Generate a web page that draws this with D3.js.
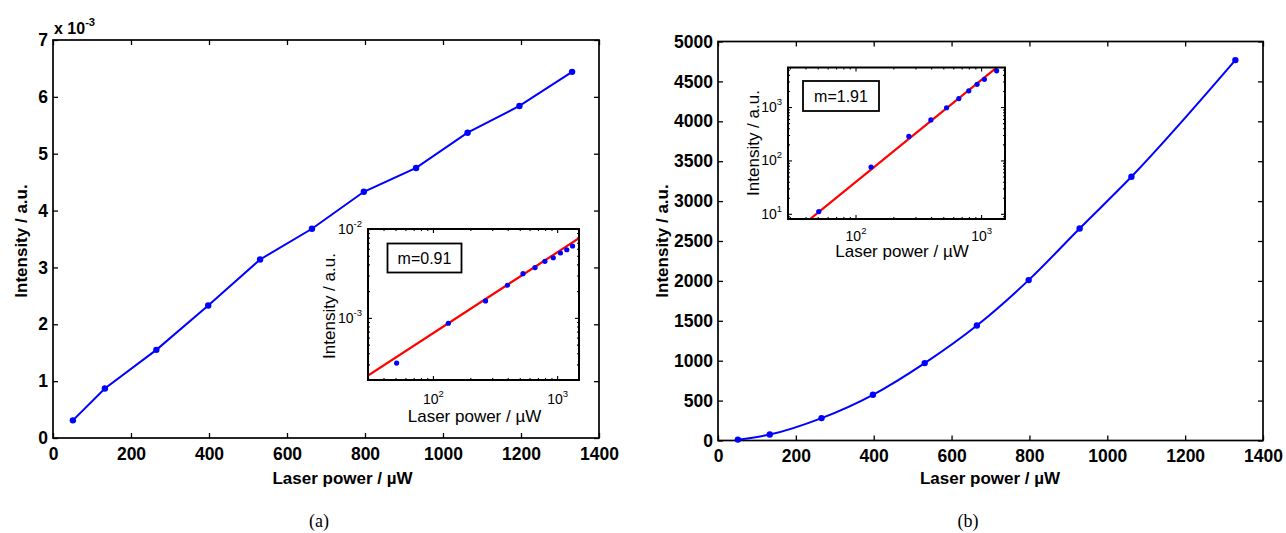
<!DOCTYPE html>
<html>
<head>
<meta charset="utf-8">
<script src="https://cdn.jsdelivr.net/npm/d3@7"></script>
<style>
  body { margin: 0; background: #fff; }
  svg text { font-family: "Liberation Sans", Arial, Helvetica, sans-serif; fill: #000; }
</style>
</head>
<body>
<svg id="fig" width="1286" height="533"></svg>
<script>
// ---- data -------------------------------------------------------------
// (a) linear response
const powerA = [51, 133, 265, 398, 531, 664, 797, 931, 1063, 1196, 1331];            // µW
const intensityA = [0.31e-3, 0.87e-3, 1.55e-3, 2.33e-3, 3.14e-3, 3.68e-3,
                    4.33e-3, 4.75e-3, 5.37e-3, 5.84e-3, 6.44e-3];                     // a.u.
// (b) quadratic response
const powerB = [51, 133, 266, 398, 531, 665, 798, 929, 1062, 1329];                  // µW
const intensityB = [11, 75, 281, 573, 970, 1441, 2010, 2657, 3305, 4767];            // a.u.

// power-law fits I = I0 * (P / P0)^m
const slopeA = 0.91;
const anchorA = [200, 1.26e-3];
const slopeB = 1.91;
const anchorB = [531, 950];

// tick labels
const powerTicks = [0, 200, 400, 600, 800, 1000, 1200, 1400];
const intensityTicksA = [0, 1e-3, 2e-3, 3e-3, 4e-3, 5e-3, 6e-3, 7e-3];
const intensityTicksB = [0, 500, 1000, 1500, 2000, 2500, 3000, 3500, 4000, 4500, 5000];

const xTitle = "Laser power / µW";
const yTitle = "Intensity / a.u.";

// ---- drawing ----------------------------------------------------------
const svg = d3.select("#fig");
const BLUE = "#0000ff", RED = "#ff0000";

function styleAxis(sel, width) {
  sel.select(".domain").remove();
  sel.selectAll(".tick line").attr("stroke", "#000").attr("stroke-width", width);
}

function mainPanel(o) {
  const g = svg.append("g");
  const x = d3.scaleLinear().domain([0, 1400]).range([o.x0, o.x1]);
  const y = d3.scaleLinear().domain(o.yDomain).range([o.y1, o.y0]);

  const bottom = g.append("g").attr("transform", `translate(0,${o.y1})`)
    .call(d3.axisBottom(x).tickValues(powerTicks).tickSize(-5).tickSizeOuter(0)
      .tickPadding(9.5).tickFormat(d3.format("d")));
  const top = g.append("g").attr("transform", `translate(0,${o.y0})`)
    .call(d3.axisTop(x).tickValues(powerTicks).tickSize(-5).tickSizeOuter(0).tickFormat(""));
  const left = g.append("g").attr("transform", `translate(${o.x0},0)`)
    .call(d3.axisLeft(y).tickValues(o.yTicks).tickSize(-5).tickSizeOuter(0).tickPadding(5).tickFormat(o.yFmt));
  const right = g.append("g").attr("transform", `translate(${o.x1},0)`)
    .call(d3.axisRight(y).tickValues(o.yTicks).tickSize(-5).tickSizeOuter(0).tickFormat(""));
  [bottom, top, left, right].forEach(a => styleAxis(a, 1.3));
  [bottom, left].forEach(a => a.selectAll(".tick text")
    .attr("font-size", 17.5).attr("font-weight", "bold").attr("fill", "#000"));

  g.append("rect").attr("x", o.x0).attr("y", o.y0)
    .attr("width", o.x1 - o.x0).attr("height", o.y1 - o.y0)
    .attr("fill", "none").attr("stroke", "#000").attr("stroke-width", 1.7);

  const pts = o.xs.map((d, i) => [d, o.ys[i]]);
  g.append("path").datum(pts)
    .attr("fill", "none").attr("stroke", BLUE).attr("stroke-width", 2)
    .attr("d", d3.line().x(d => x(d[0])).y(d => y(d[1])).curve(o.curve));
  g.append("g").selectAll("circle").data(pts).join("circle")
    .attr("cx", d => x(d[0])).attr("cy", d => y(d[1])).attr("r", 3.2).attr("fill", BLUE);

  g.append("text").attr("x", o.xTitleX).attr("y", o.xTitleY)
    .attr("text-anchor", "middle").attr("font-size", 17).attr("font-weight", "bold").text(xTitle);
  g.append("text").attr("transform", `translate(${o.yTitleX},${o.yTitleY}) rotate(-90)`)
    .attr("text-anchor", "middle").attr("dominant-baseline", "central")
    .attr("font-size", 17).attr("font-weight", "bold").text(yTitle);
  return g;
}

function isDecade(d) {
  const l = Math.log10(d);
  return Math.abs(l - Math.round(l)) < 1e-6;
}

function powerLabel(text) {
  text.each(function(d) {
    const t = d3.select(this);
    const e = Math.round(Math.log10(d));
    t.text(null);
    t.append("tspan").text("10");
    t.append("tspan").attr("dy", "-0.75em").attr("font-size", "0.68em").text(e);
  });
}

function inset(o) {
  const g = svg.append("g");
  const x = d3.scaleLog().domain(o.xDomain).range([o.x0, o.x1]);
  const y = d3.scaleLog().domain(o.yDomain).range([o.y1, o.y0]);
  const xMaj = x.ticks().filter(isDecade), xMin = x.ticks().filter(d => !isDecade(d));
  const yMaj = y.ticks().filter(isDecade), yMin = y.ticks().filter(d => !isDecade(d));

  g.append("rect").attr("x", o.x0).attr("y", o.y0)
    .attr("width", o.x1 - o.x0).attr("height", o.y1 - o.y0).attr("fill", "#fff");

  const axes = [];
  axes.push(g.append("g").attr("transform", `translate(0,${o.y1})`)
    .call(d3.axisBottom(x).tickValues(xMaj).tickSize(-4).tickSizeOuter(0).tickPadding(o.xLabelPad)));
  axes.push(g.append("g").attr("transform", `translate(0,${o.y1})`)
    .call(d3.axisBottom(x).tickValues(xMin).tickSize(-2).tickSizeOuter(0).tickFormat("")));
  axes.push(g.append("g").attr("transform", `translate(0,${o.y0})`)
    .call(d3.axisTop(x).tickValues(xMaj).tickSize(-4).tickSizeOuter(0).tickFormat("")));
  axes.push(g.append("g").attr("transform", `translate(0,${o.y0})`)
    .call(d3.axisTop(x).tickValues(xMin).tickSize(-2).tickSizeOuter(0).tickFormat("")));
  axes.push(g.append("g").attr("transform", `translate(${o.x0},0)`)
    .call(d3.axisLeft(y).tickValues(yMaj).tickSize(-4).tickSizeOuter(0).tickPadding(6)));
  axes.push(g.append("g").attr("transform", `translate(${o.x0},0)`)
    .call(d3.axisLeft(y).tickValues(yMin).tickSize(-2).tickSizeOuter(0).tickFormat("")));
  axes.push(g.append("g").attr("transform", `translate(${o.x1},0)`)
    .call(d3.axisRight(y).tickValues(yMaj).tickSize(-4).tickSizeOuter(0).tickFormat("")));
  axes.push(g.append("g").attr("transform", `translate(${o.x1},0)`)
    .call(d3.axisRight(y).tickValues(yMin).tickSize(-2).tickSizeOuter(0).tickFormat("")));
  axes.forEach(a => styleAxis(a, 1.1));
  [axes[0], axes[4]].forEach(a => a.selectAll(".tick text")
    .attr("font-size", 14).attr("fill", "#000").call(powerLabel));

  // fitted power law, straight in log-log space
  const fit = d => o.anchor[1] * Math.pow(d / o.anchor[0], o.slope);
  const clipId = "clip" + o.id;
  g.append("clipPath").attr("id", clipId).append("rect")
    .attr("x", o.x0).attr("y", o.y0).attr("width", o.x1 - o.x0).attr("height", o.y1 - o.y0);
  g.append("path").datum(o.xDomain)
    .attr("clip-path", `url(#${clipId})`)
    .attr("fill", "none").attr("stroke", RED).attr("stroke-width", 2.2)
    .attr("d", d3.line().x(d => x(d)).y(d => y(fit(d))));

  g.append("g").selectAll("circle").data(o.xs.map((d, i) => [d, o.ys[i]])).join("circle")
    .attr("cx", d => x(d[0])).attr("cy", d => y(d[1])).attr("r", 2.6).attr("fill", BLUE);

  g.append("rect").attr("x", o.x0).attr("y", o.y0)
    .attr("width", o.x1 - o.x0).attr("height", o.y1 - o.y0)
    .attr("fill", "none").attr("stroke", "#000").attr("stroke-width", 2);

  // slope annotation
  g.append("rect").attr("x", o.mBox[0]).attr("y", o.mBox[1])
    .attr("width", o.mBox[2]).attr("height", o.mBox[3])
    .attr("fill", "#fff").attr("stroke", "#000").attr("stroke-width", 1.8);
  g.append("text").attr("x", o.mBox[0] + o.mBox[2] / 2).attr("y", o.mBox[1] + o.mBox[3] / 2)
    .attr("text-anchor", "middle").attr("dominant-baseline", "central")
    .attr("font-size", 16).text("m=" + o.slope.toFixed(2));

  g.append("text").attr("x", o.xTitle[0]).attr("y", o.xTitle[1])
    .attr("text-anchor", "middle").attr("font-size", 17).text(xTitle);
  g.append("text").attr("transform", `translate(${o.yTitle[0]},${o.yTitle[1]}) rotate(-90)`)
    .attr("text-anchor", "middle").attr("dominant-baseline", "central")
    .attr("font-size", 17).text(yTitle);
}

// panel (a)
mainPanel({
  x0: 53, x1: 599, y0: 40, y1: 438,
  yDomain: [0, 7e-3], yTicks: intensityTicksA, yFmt: d => d3.format("d")(Math.round(d * 1e3)),
  xs: powerA, ys: intensityA, curve: d3.curveLinear,
  xTitleX: 342.5, xTitleY: 484, yTitleX: 21, yTitleY: 241
});
// axis multiplier
svg.append("text").attr("x", 54).attr("y", 34).attr("font-size", 16).attr("font-weight", "bold")
  .call(t => { t.append("tspan").text("x 10");
               t.append("tspan").attr("dy", "-0.7em").attr("font-size", "0.7em").text("-3"); });

inset({
  id: "a", x0: 368, x1: 579, y0: 229, y1: 380,
  xDomain: [30, 1500], yDomain: [2e-4, 1e-2],
  xs: powerA, ys: intensityA, slope: slopeA, anchor: anchorA,
  xLabelPad: 14.5, mBox: [387.5, 243.5, 74, 29],
  xTitle: [474.5, 422], yTitle: [329, 306]
});

// panel (b)
mainPanel({
  x0: 718, x1: 1263, y0: 41.5, y1: 440.5,
  yDomain: [0, 5000], yTicks: intensityTicksB, yFmt: d3.format("d"),
  xs: powerB, ys: intensityB, curve: d3.curveMonotoneX,
  xTitleX: 990, xTitleY: 484, yTitleX: 662, yTitleY: 241
});

inset({
  id: "b", x0: 788, x1: 1005, y0: 67.5, y1: 219,
  xDomain: [29, 1550], yDomain: [8, 5500],
  xs: powerB, ys: intensityB, slope: slopeB, anchor: anchorB,
  xLabelPad: 12, mBox: [803, 81, 76, 30],
  xTitle: [902, 257], yTitle: [753, 143]
});

// sub-figure captions
svg.append("text").attr("x", 319).attr("y", 527).attr("text-anchor", "middle")
  .style("font-family", "'Liberation Serif', 'DejaVu Serif', serif").attr("font-size", 18).text("(a)");
svg.append("text").attr("x", 968).attr("y", 527).attr("text-anchor", "middle")
  .style("font-family", "'Liberation Serif', 'DejaVu Serif', serif").attr("font-size", 18).text("(b)");
</script>
</body>
</html>
